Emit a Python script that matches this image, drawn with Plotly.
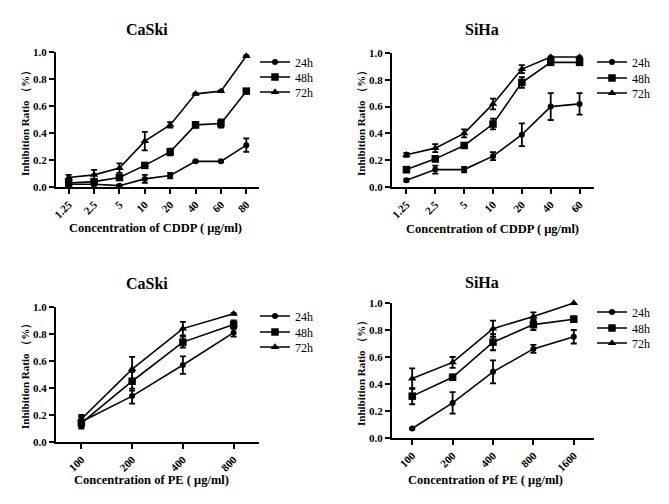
import plotly.graph_objects as go

# ---------------- data ----------------
series_names = ["24h", "48h", "72h"]

# Panel 1: CaSki, CDDP
cddp_caski_conc = ["1.25", "2.5", "5", "10", "20", "40", "60", "80"]
caski_cddp_24 = [0.02, 0.02, 0.01, 0.06, 0.085, 0.19, 0.19, 0.31]
caski_cddp_24_err = [0.01, 0.01, 0.005, 0.03, 0.02, 0.005, 0.005, 0.05]
caski_cddp_48 = [0.03, 0.04, 0.07, 0.16, 0.26, 0.46, 0.47, 0.71]
caski_cddp_48_err = [0.01, 0.01, 0.01, 0.01, 0.025, 0.02, 0.03, 0.01]
caski_cddp_72 = [0.07, 0.09, 0.14, 0.34, 0.46, 0.69, 0.71, 0.97]
caski_cddp_72_err = [0.02, 0.037, 0.035, 0.068, 0.02, 0.005, 0.005, 0.005]

# Panel 2: SiHa, CDDP
cddp_siha_conc = ["1.25", "2.5", "5", "10", "20", "40", "60"]
siha_cddp_24 = [0.05, 0.13, 0.13, 0.23, 0.39, 0.60, 0.62]
siha_cddp_24_err = [0.01, 0.03, 0.02, 0.03, 0.085, 0.10, 0.08]
siha_cddp_48 = [0.13, 0.21, 0.31, 0.47, 0.78, 0.93, 0.93]
siha_cddp_48_err = [0.02, 0.02, 0.01, 0.04, 0.04, 0.02, 0.02]
siha_cddp_72 = [0.24, 0.29, 0.40, 0.62, 0.88, 0.97, 0.97]
siha_cddp_72_err = [0.015, 0.03, 0.03, 0.04, 0.03, 0.005, 0.005]

# Panel 3: CaSki, PE
pe_caski_conc = ["100", "200", "400", "800"]
caski_pe_24 = [0.15, 0.34, 0.57, 0.81]
caski_pe_24_err = [0.04, 0.055, 0.065, 0.03]
caski_pe_48 = [0.14, 0.45, 0.74, 0.87]
caski_pe_48_err = [0.04, 0.07, 0.04, 0.03]
caski_pe_72 = [0.17, 0.54, 0.84, 0.95]
caski_pe_72_err = [0.03, 0.09, 0.05, 0.005]

# Panel 4: SiHa, PE
pe_siha_conc = ["100", "200", "400", "800", "1600"]
siha_pe_24 = [0.07, 0.26, 0.49, 0.66, 0.75]
siha_pe_24_err = [0.005, 0.08, 0.085, 0.03, 0.05]
siha_pe_48 = [0.31, 0.45, 0.71, 0.84, 0.88]
siha_pe_48_err = [0.06, 0.02, 0.06, 0.04, 0.02]
siha_pe_72 = [0.44, 0.56, 0.81, 0.90, 1.00]
siha_pe_72_err = [0.075, 0.04, 0.06, 0.03, 0.005]

panel_titles = ["CaSki", "SiHa", "CaSki", "SiHa"]
x_titles = ["Concentration of CDDP ( μg/ml)", "Concentration of CDDP ( μg/ml)",
            "Concentration of PE ( μg/ml)", "Concentration of PE ( μg/ml)"]
y_title = "Inhibition Ratio （%）"
y_ticks = [0.0, 0.2, 0.4, 0.6, 0.8, 1.0]

# ---------------- layout helpers ----------------
WIN_W, WIN_H = 669, 504
OFF = 8                      # default page body margin
W, H = WIN_W - 2 * OFF, WIN_H - 2 * OFF
FONT = "Liberation Serif"


def fx(px):
    return (px - OFF) / W


def fy(px):
    return 1 - (px - OFF) / H


panels = [
    dict(cats=cddp_caski_conc,
         ys=[caski_cddp_24, caski_cddp_48, caski_cddp_72],
         es=[caski_cddp_24_err, caski_cddp_48_err, caski_cddp_72_err],
         xpx=(56, 259), ypx=(52, 187), title_xy=(147, 30), xt_xy=(155, 228),
         yt_xy=(25, 121), leg_x=255, leg_y=[62, 77, 92]),
    dict(cats=cddp_siha_conc,
         ys=[siha_cddp_24, siha_cddp_48, siha_cddp_72],
         es=[siha_cddp_24_err, siha_cddp_48_err, siha_cddp_72_err],
         xpx=(392, 594), ypx=(53, 187), title_xy=(482, 30), xt_xy=(492, 229),
         yt_xy=(361, 121), leg_x=592, leg_y=[62, 78, 93]),
    dict(cats=pe_caski_conc,
         ys=[caski_pe_24, caski_pe_48, caski_pe_72],
         es=[caski_pe_24_err, caski_pe_48_err, caski_pe_72_err],
         xpx=(56, 259), ypx=(307, 442), title_xy=(147, 283), xt_xy=(151, 480),
         yt_xy=(25, 374), leg_x=255, leg_y=[316, 332, 347]),
    dict(cats=pe_siha_conc,
         ys=[siha_pe_24, siha_pe_48, siha_pe_72],
         es=[siha_pe_24_err, siha_pe_48_err, siha_pe_72_err],
         xpx=(392, 594), ypx=(303, 438), title_xy=(482, 282), xt_xy=(485, 480),
         yt_xy=(361, 371), leg_x=592, leg_y=[312, 328, 343]),
]

symbols = ["circle", "square", "triangle-up"]
msizes = [6, 7.5, 7.5]

fig = go.Figure()
annotations = []
layout_axes = {}
leg_idx = 0

for i, p in enumerate(panels):
    n = i + 1
    xa = "x" if n == 1 else f"x{n}"
    ya = "y" if n == 1 else f"y{n}"
    xs = list(range(len(p["cats"])))
    for k in range(3):
        leg_idx += 1
        leg = "legend" if leg_idx == 1 else f"legend{leg_idx}"
        fig.add_trace(go.Scatter(
            x=xs, y=p["ys"][k], name=series_names[k],
            mode="lines+markers",
            line=dict(color="black", width=1.6),
            marker=dict(symbol=symbols[k], size=msizes[k], color="black"),
            error_y=dict(type="data", array=p["es"][k], color="black",
                         thickness=1.8, width=3),
            xaxis=xa, yaxis=ya, legend=leg, cliponaxis=False,
        ))
        layout_axes[leg] = dict(
            x=fx(p["leg_x"]), y=fy(p["leg_y"][k]),
            xref="container", yref="container",
            xanchor="left", yanchor="middle", bgcolor="rgba(0,0,0,0)",
            font=dict(family=FONT, size=12, color="black"),
            itemwidth=30, borderwidth=0)
    x0, x1 = p["xpx"]
    yt, yb = p["ypx"]
    axis_common = dict(showline=True, linecolor="black", linewidth=2,
                       ticks="outside", ticklen=5, tickwidth=2, tickcolor="black",
                       showgrid=False, zeroline=False, automargin=False,
                       tickfont=dict(family=FONT, size=11, color="black", weight="bold"))
    layout_axes["xaxis" if n == 1 else f"xaxis{n}"] = dict(
        domain=[fx(x0), fx(x1)], anchor=ya,
        range=[-0.5, len(xs) - 0.5],
        tickmode="array", tickvals=xs, ticktext=p["cats"], tickangle=-45,
        **axis_common)
    layout_axes["yaxis" if n == 1 else f"yaxis{n}"] = dict(
        domain=[fy(yb), fy(yt)], anchor=xa,
        range=[0, 1.0], tickmode="array", tickvals=y_ticks, tickformat=".1f",
        **axis_common)
    tx, ty = p["title_xy"]
    annotations.append(dict(text=f"<b>{panel_titles[i]}</b>", x=fx(tx), y=fy(ty),
                            xref="paper", yref="paper", showarrow=False,
                            xanchor="center", yanchor="middle",
                            font=dict(family=FONT, size=16, color="black")))
    ax, ay = p["xt_xy"]
    annotations.append(dict(text=f"<b>{x_titles[i]}</b>", x=fx(ax), y=fy(ay),
                            xref="paper", yref="paper", showarrow=False,
                            xanchor="center", yanchor="middle",
                            font=dict(family=FONT, size=12.5, color="black")))
    bx, by = p["yt_xy"]
    annotations.append(dict(text=f"<b>{y_title}</b>", x=fx(bx), y=fy(by),
                            xref="paper", yref="paper", showarrow=False,
                            xanchor="center", yanchor="middle", textangle=-90,
                            font=dict(family=FONT, size=11, color="black")))

fig.update_layout(
    width=W, height=H, autosize=False,
    margin=dict(l=0, r=0, t=0, b=0, autoexpand=False),
    paper_bgcolor="white", plot_bgcolor="white",
    showlegend=True,
    annotations=annotations,
    **layout_axes,
)

fig.write_html("out.html")
